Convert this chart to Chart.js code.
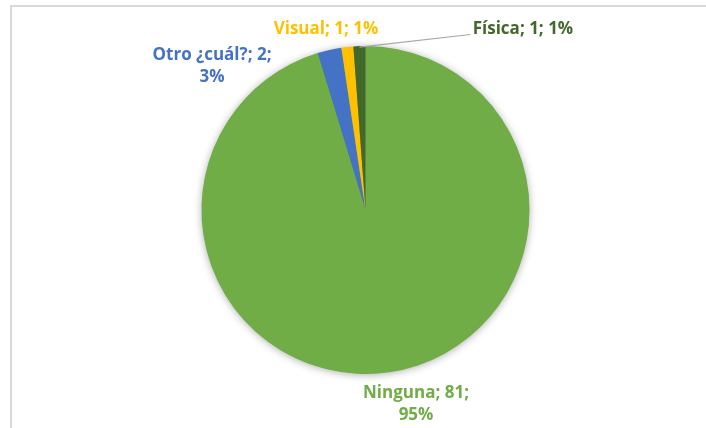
<!DOCTYPE html>
<html><head><meta charset="utf-8">
<script src="https://cdn.jsdelivr.net/npm/chart.js@4/dist/chart.umd.min.js"></script>
<style>html,body{margin:0;padding:0;background:#fff;}#wrap{width:706px;height:428px;position:relative;}</style>
</head><body><div id="wrap"><canvas id="c" width="706" height="428"></canvas></div>
<script>
const categories = ["Ninguna", "Otro ¿cuál?", "Visual", "Física"];
const values = [81, 2, 1, 1];
const percentLabels = ["95%", "3%", "1%", "1%"];
const sliceColors = ["#70AD47", "#4472C4", "#FFC000", "#43682B"];
const labelColors = ["#70AD47", "#4472C4", "#FFC000", "#43682B"];

const FONT = 'bold 17px "Open Sans", "Liberation Sans", sans-serif';

const framePlugin = {
  id: 'frame',
  beforeDraw(chart) {
    const ctx = chart.ctx;
    ctx.save();
    ctx.fillStyle = '#fff';
    ctx.fillRect(0, 0, chart.width, chart.height);
    ctx.strokeStyle = '#D9D9D9';
    ctx.lineWidth = 2;
    ctx.strokeRect(11, 6, chart.width + 20, chart.height + 20);
    ctx.restore();
  },
  beforeDatasetsDraw(chart) {
    const arc = chart.getDatasetMeta(0).data[0];
    if (!arc) return;
    const ctx = chart.ctx;
    ctx.save();
    ctx.shadowColor = 'rgba(0,0,0,0.35)';
    ctx.shadowBlur = 9;
    ctx.shadowOffsetX = 0;
    ctx.shadowOffsetY = 1;
    ctx.fillStyle = '#70AD47';
    ctx.beginPath();
    ctx.arc(arc.x, arc.y, arc.outerRadius - 0.5, 0, Math.PI * 2);
    ctx.fill();
    ctx.restore();
  },
  afterDraw(chart) {
    const meta = chart.getDatasetMeta(0);
    const a0 = meta.data[0];
    const cx = a0.x, cy = a0.y, r = a0.outerRadius;
    const ctx = chart.ctx;
    const layout = [
      {lines: [categories[0] + '; ' + values[0] + ';', percentLabels[0]], dx: 0.308, dy: 1.183},
      {lines: [categories[1] + '; ' + values[1] + ';', percentLabels[1]], dx: -0.936, dy: -0.875},
      {lines: [categories[2] + '; ' + values[2] + '; ' + percentLabels[2]], dx: -0.241, dy: -1.10},
      {lines: [categories[3] + '; ' + values[3] + '; ' + percentLabels[3]], dx: 0.960, dy: -1.10}
    ];
    // leader line for Física
    const f = meta.data[3];
    const mid = (f.startAngle + f.endAngle) / 2;
    ctx.save();
    ctx.strokeStyle = '#A6A6A6';
    ctx.lineWidth = 1.2;
    ctx.beginPath();
    ctx.moveTo(cx + Math.cos(mid) * (r - 1), cy + Math.sin(mid) * (r - 1));
    ctx.lineTo(cx + 0.64 * r, cy - 1.07 * r);
    ctx.stroke();
    ctx.restore();

    ctx.save();
    ctx.font = FONT;
    ctx.textAlign = 'center';
    ctx.textBaseline = 'middle';
    layout.forEach((L, i) => {
      ctx.fillStyle = labelColors[i];
      const lh = 22;
      const n = L.lines.length;
      const x = cx + L.dx * r;
      const yc = cy + L.dy * r;
      L.lines.forEach((t, j) => {
        ctx.fillText(t, x, yc + (j - (n - 1) / 2) * lh);
      });
    });
    ctx.restore();
  }
};

new Chart(document.getElementById('c'), {
  type: 'pie',
  data: {
    labels: categories,
    datasets: [{
      data: values,
      backgroundColor: sliceColors,
      borderWidth: 0
    }]
  },
  options: {
    responsive: false,
    animation: false,
    rotation: 0,
    layout: {padding: {top: 46, bottom: 54, left: 120, right: 95}},
    plugins: {legend: {display: false}, tooltip: {enabled: false}}
  },
  plugins: [framePlugin]
});
</script>
</body></html>
